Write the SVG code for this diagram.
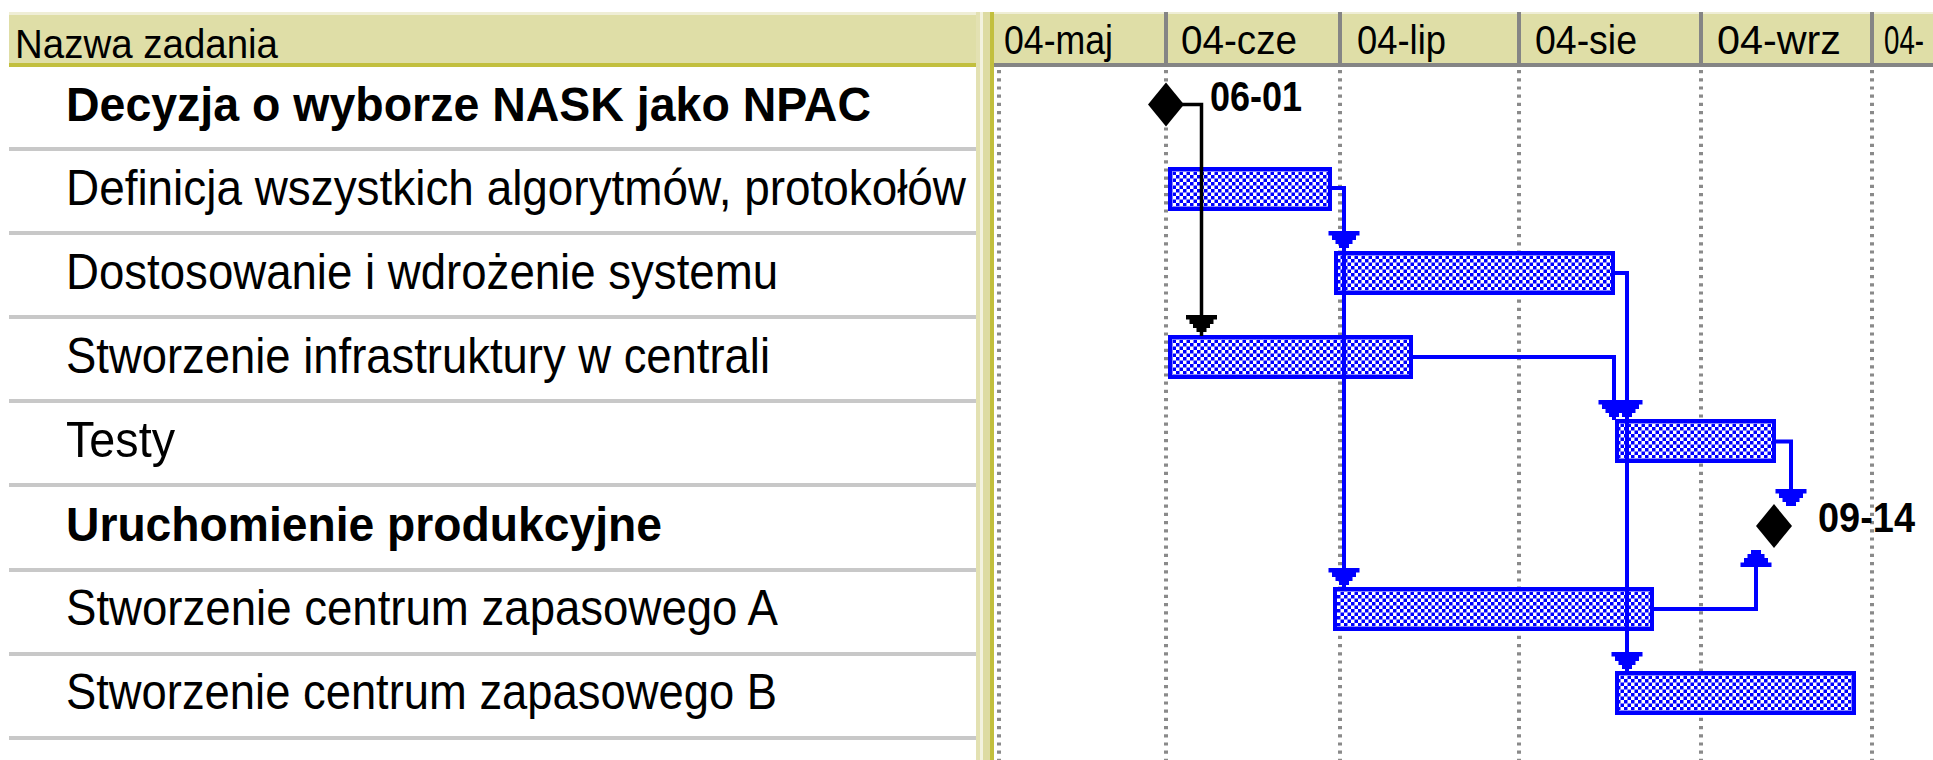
<svg xmlns="http://www.w3.org/2000/svg" xmlns:xlink="http://www.w3.org/1999/xlink" width="1933" height="760" viewBox="0 0 1933 760">
<style>
.hdr{fill:#dfdea7}
.hdrtop{fill:#efeed6}
.sep{fill:#c8c8c8}
.grid{stroke:#8a8a8a;stroke-width:4;stroke-dasharray:3.2 5;fill:none}
.colsep{fill:#858585}
.t{font-family:"Liberation Sans",Arial,sans-serif;font-size:50px;fill:#000}
.tb{font-family:"Liberation Sans",Arial,sans-serif;font-size:49px;font-weight:bold;fill:#000}
.h{font-family:"Liberation Sans",Arial,sans-serif;font-size:40px;fill:#000}
.ms{font-family:"Liberation Sans",Arial,sans-serif;font-size:43px;font-weight:bold;fill:#000}
.bar{fill:url(#chk);stroke:#0000ff;stroke-width:4}
.lnk{fill:none;stroke:#0000ff;stroke-width:4}
.lnkb{fill:none;stroke:#000;stroke-width:3.5}
.dia{fill:#000}
</style>
<defs>
<pattern id="chk" width="7" height="7" patternUnits="userSpaceOnUse">
<rect width="7" height="7" fill="#ffffff"/>
<rect width="3.5" height="3.5" fill="#0000ff"/>
<rect x="3.5" y="3.5" width="3.5" height="3.5" fill="#0000ff"/>
</pattern>
<path id="ad" d="M-15.5,0H15.5V4.5H12V9H8.5V13H5V17H-5V13H-8.5V9H-12V4.5H-15.5Z"/>
<path id="au" d="M-15.5,0H15.5V-4.5H12V-9H8.5V-13H5V-17H-5V-13H-8.5V-9H-12V-4.5H-15.5Z"/>
</defs>
<rect width="1933" height="760" fill="#ffffff"/>

<g id="table-header">
<rect class="hdr" x="9" y="12" width="967" height="51"/>
<rect class="hdrtop" x="9" y="12" width="967" height="3"/>
<rect x="9" y="63" width="967" height="4" fill="#c2bf3e"/>
<text class="h" x="15" y="58" textLength="263" lengthAdjust="spacingAndGlyphs">Nazwa zadania</text>
</g>

<g id="row-separators">
<rect class="sep" x="9" y="147" width="967" height="4"/>
<rect class="sep" x="9" y="231" width="967" height="4"/>
<rect class="sep" x="9" y="315" width="967" height="4"/>
<rect class="sep" x="9" y="399" width="967" height="4"/>
<rect class="sep" x="9" y="483" width="967" height="4"/>
<rect class="sep" x="9" y="568" width="967" height="4"/>
<rect class="sep" x="9" y="652" width="967" height="4"/>
<rect class="sep" x="9" y="736" width="967" height="4"/>
</g>

<g id="splitter">
<rect x="976" y="12" width="4" height="748" fill="#e3e1b2"/>
<rect x="980" y="12" width="3" height="748" fill="#f3f2de"/>
<rect x="983" y="12" width="7" height="748" fill="#dddba2"/>
<rect x="990" y="12" width="4" height="748" fill="#c2bf3e"/>
</g>

<g id="timescale">
<rect class="hdr" x="994" y="12" width="939" height="51"/>
<rect class="hdrtop" x="994" y="12" width="939" height="2"/>
<rect x="994" y="63" width="939" height="4" fill="#858585"/>
<rect class="colsep" x="1164" y="12" width="4" height="51"/>
<rect class="colsep" x="1338" y="12" width="4" height="51"/>
<rect class="colsep" x="1517" y="12" width="4" height="51"/>
<rect class="colsep" x="1699" y="12" width="4" height="51"/>
<rect class="colsep" x="1870" y="12" width="4" height="51"/>
<text class="h" x="1004" y="54" textLength="109" lengthAdjust="spacingAndGlyphs">04-maj</text>
<text class="h" x="1181" y="54" textLength="116" lengthAdjust="spacingAndGlyphs">04-cze</text>
<text class="h" x="1357" y="54" textLength="89" lengthAdjust="spacingAndGlyphs">04-lip</text>
<text class="h" x="1535" y="54" textLength="102" lengthAdjust="spacingAndGlyphs">04-sie</text>
<text class="h" x="1717" y="54" textLength="124" lengthAdjust="spacingAndGlyphs">04-wrz</text>
<text class="h" x="1884" y="54" textLength="40" lengthAdjust="spacingAndGlyphs">04-</text>
</g>

<g id="gridlines">
<line class="grid" x1="999" y1="70" x2="999" y2="760"/>
<line class="grid" x1="1166" y1="70" x2="1166" y2="760"/>
<line class="grid" x1="1340" y1="70" x2="1340" y2="760"/>
<line class="grid" x1="1519" y1="70" x2="1519" y2="760"/>
<line class="grid" x1="1701" y1="70" x2="1701" y2="760"/>
<line class="grid" x1="1872" y1="70" x2="1872" y2="760"/>
</g>

<g id="task-decyzja">
<text class="tb" x="66" y="121" textLength="805" lengthAdjust="spacingAndGlyphs">Decyzja o wyborze NASK jako NPAC</text>
<polygon class="dia" points="1166,82.5 1184,104.5 1166,126.5 1148,104.5"/>
<text class="ms" x="1210" y="111" textLength="92" lengthAdjust="spacingAndGlyphs">06-01</text>
</g>

<g id="task-definicja">
<text class="t" x="66" y="205" textLength="900" lengthAdjust="spacingAndGlyphs">Definicja wszystkich algorytmów, protokołów</text>
<rect class="bar" x="1170" y="169" width="160" height="40"/>
</g>

<g id="task-dostosowanie">
<text class="t" x="66" y="289" textLength="712" lengthAdjust="spacingAndGlyphs">Dostosowanie i wdrożenie systemu</text>
<rect class="bar" x="1336" y="253" width="277" height="40"/>
</g>

<g id="task-infrastruktura">
<text class="t" x="66" y="373" textLength="704" lengthAdjust="spacingAndGlyphs">Stworzenie infrastruktury w centrali</text>
<rect class="bar" x="1170" y="337" width="241" height="40"/>
</g>

<g id="task-testy">
<text class="t" x="66" y="457" textLength="109" lengthAdjust="spacingAndGlyphs">Testy</text>
<rect class="bar" x="1617" y="421" width="157" height="40"/>
</g>

<g id="task-uruchomienie">
<text class="tb" x="66" y="541" textLength="596" lengthAdjust="spacingAndGlyphs">Uruchomienie produkcyjne</text>
<polygon class="dia" points="1774,504 1792,526 1774,548 1756,526"/>
<text class="ms" x="1818" y="532" textLength="97" lengthAdjust="spacingAndGlyphs">09-14</text>
</g>

<g id="task-centrum-a">
<text class="t" x="66" y="625" textLength="712" lengthAdjust="spacingAndGlyphs">Stworzenie centrum zapasowego A</text>
<rect class="bar" x="1335" y="589" width="317" height="40"/>
</g>

<g id="task-centrum-b">
<text class="t" x="66" y="709" textLength="711" lengthAdjust="spacingAndGlyphs">Stworzenie centrum zapasowego B</text>
<rect class="bar" x="1617" y="673" width="237" height="40"/>
</g>

<g id="connectors">
<path class="lnkb" d="M1182,104.5H1201.5V336"/>
<use xlink:href="#ad" x="1201.5" y="315" fill="#000"/>
<path class="lnk" d="M1330,188H1344V252"/>
<use xlink:href="#ad" x="1344" y="231" fill="#0000ff"/>
<path class="lnk" d="M1344,188V588"/>
<use xlink:href="#ad" x="1344" y="568" fill="#0000ff"/>
<path class="lnk" d="M1411,357H1614V420"/>
<use xlink:href="#ad" x="1614" y="400" fill="#0000ff"/>
<path class="lnk" d="M1613,273H1627V672"/>
<use xlink:href="#ad" x="1627" y="400" fill="#0000ff"/>
<use xlink:href="#ad" x="1627" y="652" fill="#0000ff"/>
<path class="lnk" d="M1774,441.5H1791V505"/>
<use xlink:href="#ad" x="1791" y="489" fill="#0000ff"/>
<path class="lnk" d="M1652,609H1756V550"/>
<use xlink:href="#au" x="1756" y="567" fill="#0000ff"/>
</g>
</svg>
